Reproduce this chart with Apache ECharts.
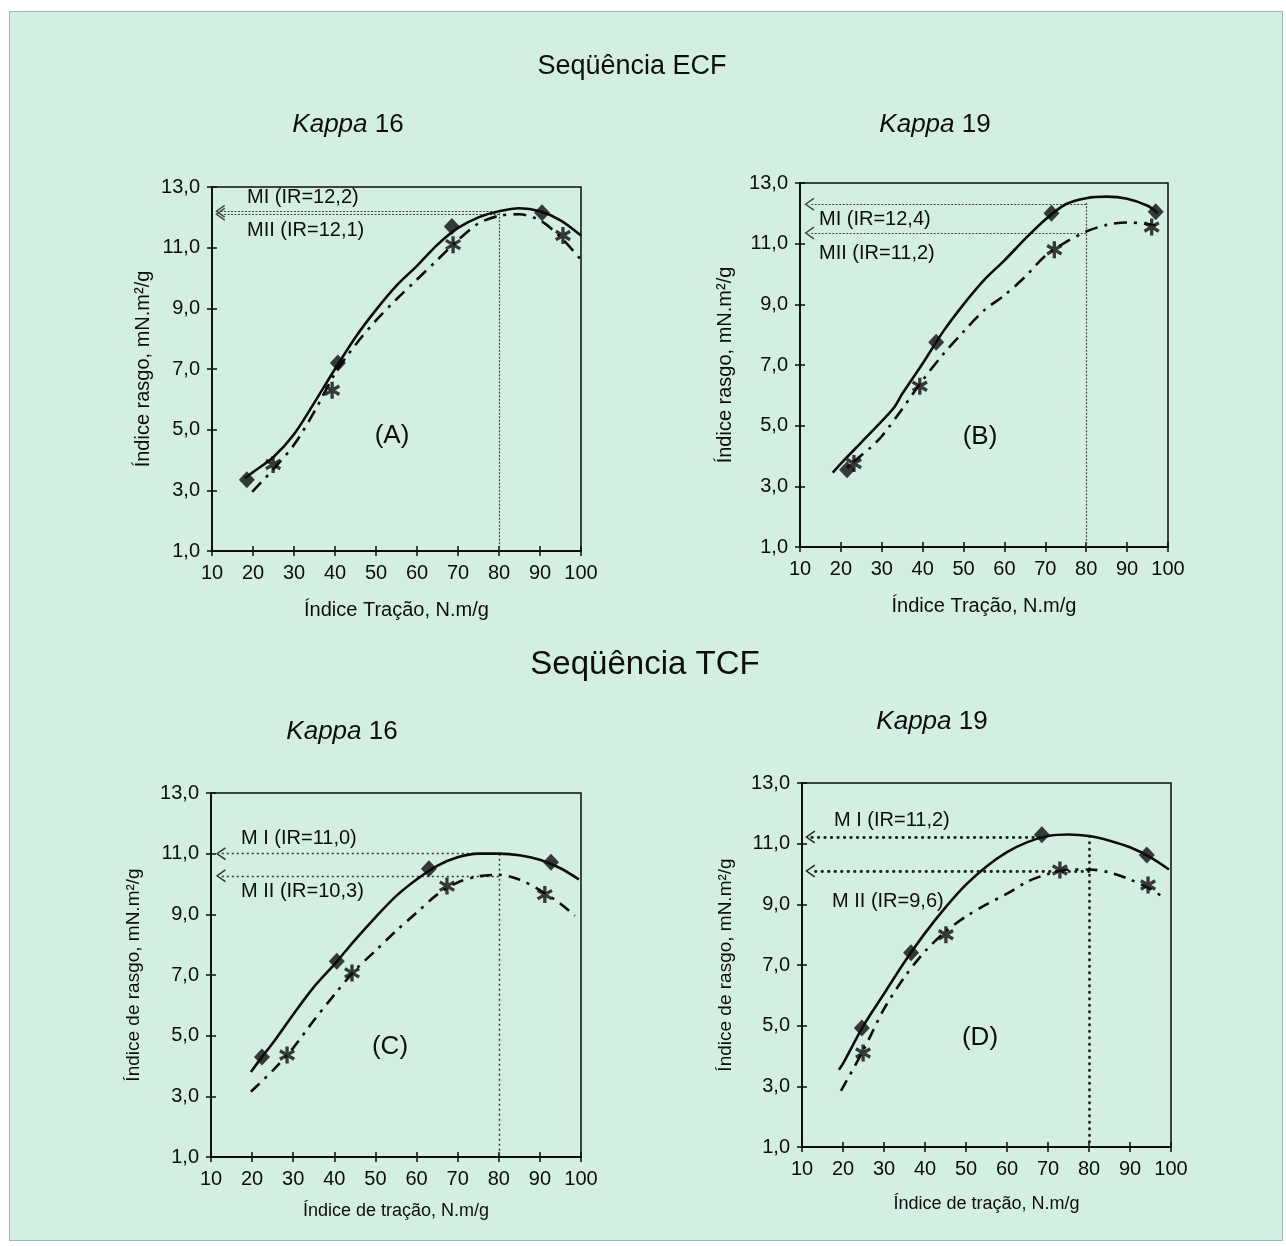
<!DOCTYPE html>
<html>
<head>
<meta charset="utf-8">
<script src="https://cdn.jsdelivr.net/npm/echarts@6/dist/echarts.min.js"></script>
<style>
html,body{margin:0;padding:0;background:#ffffff;}
#frame{position:absolute;left:9px;top:11px;width:1272px;height:1228px;background:#d3efe1;border:1px solid #9db8ac;}
#c{position:absolute;left:0;top:0;width:1286px;height:1246px;}
</style>
</head>
<body>
<div id="frame"></div>
<div id="c"></div>
<script>
// ---------------- DATA ----------------
const xTickLabels = ['10','20','30','40','50','60','70','80','90','100'];
const yTickLabels = ['1,0','3,0','5,0','7,0','9,0','11,0','13,0'];

// (A) ECF Kappa 16
const aMI_points  = [[18.5,3.35],[40.7,7.2],[68.5,11.7],[90.5,12.15]];
const aMII_points = [[24.9,3.85],[39.3,6.3],[68.8,11.1],[95.6,11.4]];
const aMI_curve   = [[18,3.4],[20,3.6],[25,4.1],[30,4.85],[35,5.9],[40,7.0],[45,8.05],[50,8.95],[55,9.75],[60,10.4],[65,11.1],[70,11.65],[75,12.0],[80,12.2],[85,12.3],[90,12.2],[95,11.9],[100,11.4]];
const aMII_curve  = [[19.8,2.95],[25,3.7],[30,4.5],[35,5.6],[40,6.85],[45,7.8],[50,8.6],[55,9.3],[60,9.95],[65,10.6],[70,11.25],[75,11.8],[80,12.05],[85,12.1],[90,11.9],[95,11.35],[100,10.6]];
const aIR = [12.2, 12.1];
const aTopIR = 12.25;

// (B) ECF Kappa 19
const bMI_points  = [[21.5,3.55],[43.3,7.75],[71.5,12.0],[97,12.05]];
const bMII_points = [[23.2,3.75],[39.3,6.3],[72.2,10.8],[96,11.55]];
const bMI_curve   = [[18,3.45],[20,3.75],[25,4.45],[30,5.15],[33,5.6],[35,6.05],[40,7.05],[45,8.1],[50,9.0],[55,9.8],[60,10.45],[65,11.15],[70,11.8],[75,12.3],[80,12.5],[85,12.55],[90,12.48],[95,12.25],[97.5,12.0]];
const bMII_curve  = [[23,3.8],[27,4.25],[30,4.65],[35,5.55],[40,6.5],[45,7.35],[50,8.1],[55,8.8],[60,9.3],[65,9.9],[70,10.6],[75,11.05],[80,11.4],[85,11.62],[90,11.7],[95,11.65],[97,11.6]];
const bIR = [12.3, 11.35];
const bTopIR = 12.35;

// (C) TCF Kappa 16
const cMI_points  = [[22.4,4.3],[40.6,7.45],[63.0,10.5],[92.7,10.72]];
const cMII_points = [[28.5,4.36],[44.3,7.07],[67.4,9.93],[91.2,9.65]];
const cMI_curve   = [[19.7,3.8],[22.4,4.3],[25,4.75],[30,5.7],[35,6.6],[40,7.35],[45,8.15],[50,8.9],[55,9.6],[60,10.15],[65,10.6],[70,10.88],[75,11.0],[80,11.0],[85,10.95],[90,10.8],[95,10.52],[99.5,10.15]];
const cMII_curve  = [[19.7,3.15],[25,3.85],[30,4.6],[35,5.5],[40,6.35],[45,7.15],[50,7.8],[55,8.45],[60,9.05],[65,9.65],[70,10.05],[75,10.25],[80,10.3],[85,10.15],[90,9.8],[95,9.35],[98.5,8.95]];
const cIR = [11.0, 10.27];
const cTopIR = 11.0;

// (D) TCF Kappa 19
const dMI_points  = [[24.6,4.92],[36.6,7.4],[68.5,11.29],[94.1,10.63]];
const dMII_points = [[24.9,4.1],[45.1,8.0],[72.9,10.13],[94.4,9.64]];
const dMI_curve   = [[19,3.55],[20,3.75],[25,5.0],[30,6.05],[35,7.1],[40,8.05],[45,8.9],[50,9.65],[55,10.25],[60,10.72],[65,11.05],[70,11.25],[75,11.3],[80,11.25],[85,11.1],[90,10.88],[95,10.55],[99.5,10.15]];
const dMII_curve  = [[19.5,2.85],[25,4.2],[30,5.55],[35,6.6],[40,7.45],[45,8.1],[50,8.6],[55,9.0],[60,9.35],[65,9.75],[70,10.0],[75,10.15],[80,10.15],[85,10.05],[90,9.82],[95,9.5],[98.5,9.2]];
const dIR = [11.22, 10.1];
const dTopIR = 11.25;

const IR_X = 80;

// ---------------- LAYOUT / STYLE ----------------
const FONT = '"Liberation Sans", Arial, Helvetica, sans-serif';
const INK = '#0d0d0d';
const STAR = 'path://M-1.6,-8 L1.6,-8 L1.6,8 L-1.6,8 Z M-7.728,-2.614 L-6.128,-5.386 L7.728,2.614 L6.128,5.386 Z M6.128,-5.386 L7.728,-2.614 L-6.128,5.386 L-7.728,2.614 Z';
const CHEV = 'path://M0,0 L7,10 L5.6,11 L0,2.6 L-5.6,11 L-7,10 Z';

const panels = [
  {grid:{left:212,top:187,width:369,height:364}, mi:aMI_points, mii:aMII_points, miC:aMI_curve, miiC:aMII_curve,
   ir:aIR, top:aTopIR, arrowX:[12,12], irEnd:[IR_X,IR_X], dot:{type:[2,1.5],width:1.2,color:'#444'}, dash:[13,7,3,7],
   xName:'Índice Tração, N.m/g', yName:'Índice rasgo, mN.m²/g', xGap:49, xNameSize:20, yGap:59, yNameSize:20},
  {grid:{left:800,top:183,width:368,height:364}, mi:bMI_points, mii:bMII_points, miC:bMI_curve, miiC:bMII_curve,
   ir:bIR, top:bTopIR, arrowX:[12.3,12.3], irEnd:[IR_X,IR_X], dot:{type:[2,1.5],width:1.2,color:'#444'}, dash:[13,7,3,7],
   xName:'Índice Tração, N.m/g', yName:'Índice rasgo, mN.m²/g', xGap:49, xNameSize:20, yGap:65, yNameSize:20},
  {grid:{left:211,top:793,width:370,height:364}, mi:cMI_points, mii:cMII_points, miC:cMI_curve, miiC:cMII_curve,
   ir:cIR, top:cTopIR, arrowX:[12.4,12.4], irEnd:[IR_X,IR_X], dot:{type:[2,3],width:1.4,color:'#333'}, dash:[12,7,3,7],
   xName:'Índice de tração, N.m/g', yName:'Índice de rasgo, mN.m²/g', xGap:45, xNameSize:18, yGap:68, yNameSize:19},
  {grid:{left:802,top:783,width:369,height:364}, mi:dMI_points, mii:dMII_points, miC:dMI_curve, miiC:dMII_curve,
   ir:dIR, top:dTopIR, arrowX:[12,12], irEnd:[68,IR_X], dot:{type:[0.5,6],width:2.8,color:'#222',cap:'round'}, dash:[12,7,3,7],
   xName:'Índice de tração, N.m/g', yName:'Índice de rasgo, mN.m²/g', xGap:48, xNameSize:18, yGap:67, yNameSize:19}
];

const grid = [], xAxis = [], yAxis = [], series = [];
panels.forEach((p, i) => {
  grid.push(Object.assign({show:true, borderColor:INK, borderWidth:1.5, backgroundColor:'transparent', containLabel:false}, p.grid));
  // main axes: labels + outward ticks
  xAxis.push({type:'value', gridIndex:i, min:10, max:100, interval:10,
    axisLine:{show:true, onZero:false, lineStyle:{color:INK, width:1.8}},
    axisTick:{show:true, inside:false, length:5, lineStyle:{color:INK, width:1.5}},
    axisLabel:{margin:12, color:INK, fontSize:20, fontFamily:FONT, formatter:(v)=>xTickLabels[Math.round((v-10)/10)]},
    splitLine:{show:false},
    name:p.xName, nameLocation:'middle', nameGap:p.xGap, nameTextStyle:{color:INK, fontSize:p.xNameSize, fontFamily:FONT}});
  // overlay axis: inward ticks (ticks cross the axis line)
  xAxis.push({type:'value', gridIndex:i, min:10, max:100, interval:10, position:'bottom',
    axisLine:{show:false}, axisTick:{show:true, inside:true, length:5, lineStyle:{color:INK, width:1.5}},
    axisLabel:{show:false}, splitLine:{show:false}});
  yAxis.push({type:'value', gridIndex:i, min:1, max:13, interval:2,
    axisLine:{show:true, onZero:false, lineStyle:{color:INK, width:1.8}},
    axisTick:{show:true, inside:false, length:5, lineStyle:{color:INK, width:1.5}},
    axisLabel:{margin:12, color:INK, fontSize:20, fontFamily:FONT, formatter:(v)=>yTickLabels[Math.round((v-1)/2)]},
    splitLine:{show:false},
    name:p.yName, nameLocation:'middle', nameGap:p.yGap, nameTextStyle:{color:INK, fontSize:p.yNameSize, fontFamily:FONT}});
  yAxis.push({type:'value', gridIndex:i, min:1, max:13, interval:2, position:'left',
    axisLine:{show:false}, axisTick:{show:true, inside:true, length:5, lineStyle:{color:INK, width:1.5}},
    axisLabel:{show:false}, splitLine:{show:false}});

  const xi = 2*i, yi = 2*i;
  const dotStyle = {color:p.dot.color, width:p.dot.width, type:p.dot.type, cap:p.dot.cap||'butt'};
  series.push({type:'line', name:'MI curve', xAxisIndex:xi, yAxisIndex:yi, data:p.miC, showSymbol:false,
    smooth:0.3, lineStyle:{color:INK, width:2.6}, z:3, silent:true, animation:false,
    markLine:{silent:true, animation:false, symbol:['none','none'], label:{show:false}, lineStyle:dotStyle, z:2,
      data:[
        [{coord:[p.irEnd[0], p.ir[0]], symbol:'none'}, {coord:[p.arrowX[0], p.ir[0]], symbol:CHEV, symbolSize:[13,10], lineStyle:dotStyle}],
        [{coord:[p.irEnd[1], p.ir[1]], symbol:'none'}, {coord:[p.arrowX[1], p.ir[1]], symbol:CHEV, symbolSize:[13,10], lineStyle:dotStyle}],
        [{coord:[IR_X, p.top], symbol:'none'}, {coord:[IR_X, 1], symbol:'none'}]
      ]}});
  series.push({type:'line', name:'MII curve', xAxisIndex:xi, yAxisIndex:yi, data:p.miiC, showSymbol:false,
    smooth:0.3, lineStyle:{color:INK, width:2.6, type:p.dash}, z:3, silent:true, animation:false});
  series.push({type:'scatter', name:'MI', xAxisIndex:xi, yAxisIndex:yi, data:p.mi, symbol:'diamond', symbolSize:[16,17],
    itemStyle:{color:INK}, z:5, silent:true, animation:false});
  series.push({type:'scatter', name:'MII', xAxisIndex:xi, yAxisIndex:yi, data:p.mii, symbol:STAR, symbolSize:[16,17],
    itemStyle:{color:INK}, z:5, silent:true, animation:false});
});

function txt(x, y, text, size, align) {
  return {type:'text', x:x, y:y, silent:true,
    style:{text:text, fill:INK, fontSize:size, fontFamily:FONT, align:align||'center', verticalAlign:'middle'}};
}
function kappa(x, y, num) {
  return {type:'text', x:x, y:y, silent:true,
    style:{text:'{i|Kappa}{n| ' + num + '}', align:'center', verticalAlign:'middle', fill:INK,
      rich:{i:{fontStyle:'italic', fontSize:26, fontFamily:FONT, fill:INK}, n:{fontSize:26, fontFamily:FONT, fill:INK}}}};
}

const graphic = [
  txt(632, 67, 'Seqüência ECF', 27),
  kappa(348, 125, '16'),
  kappa(935, 125, '19'),
  txt(645, 665, 'Seqüência TCF', 33),
  kappa(342, 732, '16'),
  kappa(932, 722, '19'),
  txt(247, 197, 'MI (IR=12,2)', 20, 'left'),
  txt(247, 230, 'MII (IR=12,1)', 20, 'left'),
  txt(392, 436, '(A)', 26),
  txt(819, 219, 'MI (IR=12,4)', 20, 'left'),
  txt(819, 253, 'MII (IR=11,2)', 20, 'left'),
  txt(980, 437, '(B)', 26),
  txt(241, 838, 'M I (IR=11,0)', 20, 'left'),
  txt(241, 891, 'M II (IR=10,3)', 20, 'left'),
  txt(390, 1047, '(C)', 26),
  txt(834, 820, 'M I (IR=11,2)', 20, 'left'),
  txt(832, 901, 'M II (IR=9,6)', 20, 'left'),
  txt(980, 1038, '(D)', 26)
];

const chart = echarts.init(document.getElementById('c'), null, {renderer:'canvas'});
chart.setOption({
  backgroundColor:'transparent',
  animation:false,
  textStyle:{fontFamily:FONT},
  grid:grid, xAxis:xAxis, yAxis:yAxis, series:series, graphic:graphic
});
</script>
</body>
</html>
